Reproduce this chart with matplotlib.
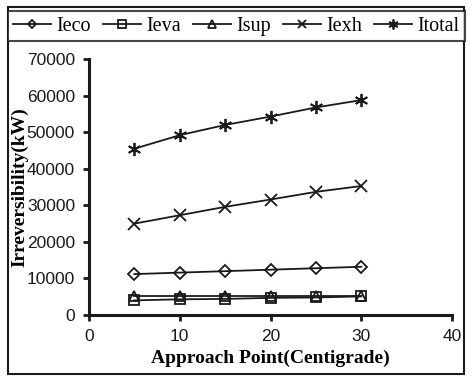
import matplotlib.pyplot as plt
from matplotlib.patches import Rectangle

# approach point (C) x irreversibility (kW)
approach = [5, 10, 15, 20, 25, 30]
ieco = [11200, 11600, 12000, 12400, 12800, 13200]
ieva = [4000, 4300, 4400, 4700, 4800, 5100]
isup = [5300, 5300, 5300, 5300, 5300, 5300]
iexh = [25000, 27300, 29600, 31600, 33700, 35300]
itotal = [45500, 49200, 52000, 54300, 56800, 58800]

series = [
    ("Ieco", ieco, "D", 6),
    ("Ieva", ieva, "s", 7.5),
    ("Isup", isup, "^", 7.5),
    ("Iexh", iexh, "x", 8),
    ("Itotal", itotal, (6, 2, 0), 9.5),
]

fig = plt.figure(figsize=(4.73, 3.83), dpi=100)
ax = fig.add_axes([0.188, 0.1775, 0.768, 0.668])

handles = []
for nome, vals, mk, ms in series:
    h, = ax.plot(approach, vals, color="#1a1a1a", lw=1.3, marker=mk, ms=ms,
                 mfc="none" if mk not in ("x", (6, 2, 0)) else "#1a1a1a",
                 mec="#1a1a1a", mew=1.3, label=nome)
    handles.append(h)

ax.set_xlim(0, 40)
ax.set_ylim(0, 70000)
ax.set_xticks([0, 10, 20, 30, 40])
ax.set_yticks(range(0, 70001, 10000))
for s in ("top", "right"):
    ax.spines[s].set_visible(False)
for s in ("left", "bottom"):
    ax.spines[s].set_linewidth(2.2)
    ax.spines[s].set_color("#1a1a1a")
ax.tick_params(width=2, length=4, direction="out", labelsize=12.5,
               colors="#1a1a1a", pad=6)
for lb in ax.get_xticklabels() + ax.get_yticklabels():
    lb.set_family("Liberation Sans")

ax.set_xlabel("Approach Point(Centigrade)", family="Liberation Serif",
              fontweight="bold", fontsize=14, labelpad=4)
ax.set_ylabel("Irreversibility(kW)", family="Liberation Serif",
              fontweight="bold", fontsize=14, labelpad=-1)

leg = fig.legend(handles=handles, loc="upper center", ncol=5,
                 bbox_to_anchor=(0.4995, 0.97), frameon=True, fancybox=False,
                 prop={"family": "Liberation Serif", "size": 14.5},
                 handlelength=1.9, handletextpad=0.25, columnspacing=0.6,
                 borderpad=0.25, borderaxespad=0, markerscale=0.75)
leg.get_frame().set_edgecolor("#1a1a1a")
leg.get_frame().set_linewidth(1.5)

fig.patches.append(Rectangle((8 / 473, 9 / 383), 456 / 473, 367 / 383,
                             transform=fig.transFigure, fill=False,
                             ec="#1a1a1a", lw=1.5))

fig.savefig("out.png", dpi=100)
